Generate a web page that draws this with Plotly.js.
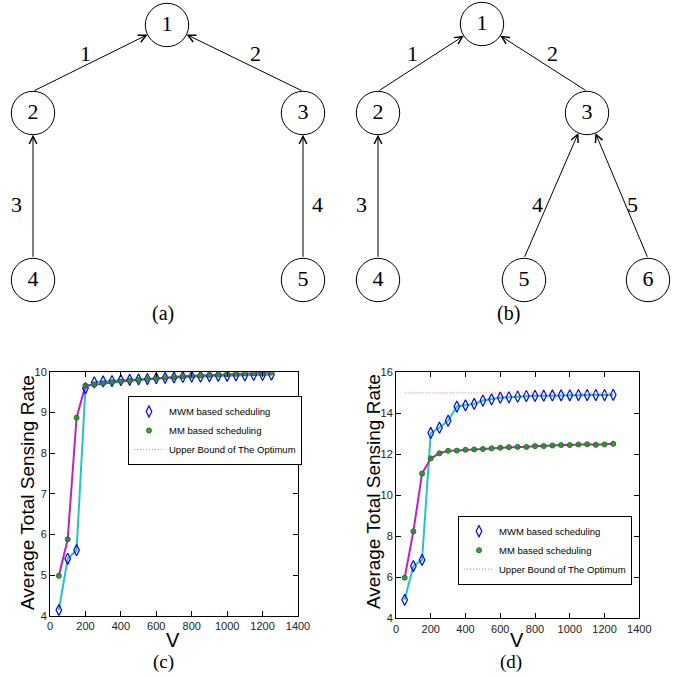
<!DOCTYPE html>
<html>
<head>
<meta charset="utf-8">
<script src="https://cdn.plot.ly/plotly-3.0.1.min.js"></script>
<style>html,body{margin:0;padding:0;background:#fff;}#chart{width:689px;height:677px;}</style>
</head>
<body>
<div id="chart"></div>
<script>
// ---------- data ----------
const V = [50,100,150,200,250,300,350,400,450,500,550,600,650,700,750,800,850,900,950,1000,1050,1100,1150,1200,1250];
const mwmC = [4.14,5.40,5.61,9.59,9.74,9.76,9.77,9.79,9.80,9.81,9.82,9.84,9.85,9.86,9.87,9.88,9.88,9.89,9.90,9.90,9.91,9.91,9.92,9.92,9.93];
const mmC  = [4.98,5.88,8.87,9.66,9.68,9.71,9.74,9.76,9.78,9.80,9.82,9.84,9.86,9.87,9.89,9.90,9.91,9.92,9.93,9.94,9.95,9.96,9.96,9.97,9.98];
const mwmD = [4.90,6.55,6.85,13.04,13.30,13.64,14.33,14.39,14.46,14.62,14.68,14.76,14.78,14.81,14.84,14.85,14.86,14.87,14.88,14.88,14.89,14.89,14.89,14.89,14.90];
const mmD  = [5.98,8.24,11.06,11.80,12.05,12.17,12.18,12.22,12.24,12.26,12.29,12.32,12.35,12.36,12.36,12.40,12.40,12.43,12.45,12.45,12.48,12.49,12.46,12.48,12.51];
const ubX = [50,1250];
const ubC = [10,10];
const ubD = [15,15];
const seriesNames = ['MWM based scheduling','MM based scheduling','Upper Bound of The Optimum'];
const xTicks = [0,200,400,600,800,1000,1200,1400];

// tree diagrams (positions in the diagram's own coordinate frame)
const nodeALabels = ['1','2','3','4','5'];
const nodeAX = [167,33,303,33,303];
const nodeAY = [25,113,113,280,280];
const edgeAFrom = [1,2,3,4];   // indexes into node arrays (source)
const edgeATo   = [0,0,1,2];   // target
const edgeALabels = ['1','2','3','4'];
const edgeALabelX = [85,255,16,317];
const edgeALabelY = [53,53,204,204];

const nodeBLabels = ['1','2','3','4','5','6'];
const nodeBX = [482,378,587,378,524,648];
const nodeBY = [24,113,113,280,280,280];
const edgeBFrom = [1,2,3,4,5];
const edgeBTo   = [0,0,1,2,2];
const edgeBLabels = ['1','2','3','4','5'];
const edgeBLabelX = [412,552,361,537,632];
const edgeBLabelY = [53,53,204,204,204];

const captions = ['(a)','(b)'];
const captionX = [163,508];
const captionY = [313,313];

// ---------- styles ----------
const R = 21.7;
const serif = 'Liberation Serif, Times New Roman, serif';
const sans = 'Liberation Sans, Arial, sans-serif';
const cyan = '#22c4c8';
const magenta = '#c020c0';
const blue = '#0000ff';
const green = '#157a15';
const red = '#ff8080';

const traces = [];
function chartTraces(xa, ya, mwm, mm, ub, legendId) {
  traces.push({x:V, y:mwm, xaxis:xa, yaxis:ya, mode:'lines', line:{color:cyan, width:2}, showlegend:false, hoverinfo:'skip'});
  traces.push({x:V, y:mm, xaxis:xa, yaxis:ya, mode:'lines', line:{color:magenta, width:2}, showlegend:false, hoverinfo:'skip'});
  traces.push({x:V, y:mwm, xaxis:xa, yaxis:ya, mode:'markers', name:seriesNames[0], legend:legendId,
    marker:{symbol:'diamond-tall-open', size:8, color:blue, line:{width:1.2, color:blue}}});
  traces.push({x:V, y:mm, xaxis:xa, yaxis:ya, mode:'markers', name:seriesNames[1], legend:legendId,
    marker:{symbol:'circle', size:5, color:'rgba(45,145,45,0.9)', line:{width:1, color:green}}});
  traces.push({x:ubX, y:ub, xaxis:xa, yaxis:ya, mode:'lines', name:seriesNames[2], legend:legendId, cliponaxis:false,
    line:{color:red, width:1.2, dash:'1px,2px'}});
}
chartTraces('x','y',mwmC,mmC,ubC,'legend');
chartTraces('x2','y2',mwmD,mmD,ubD,'legend2');

function nodeTrace(xs, ys, labels) {
  traces.push({x:xs, y:ys, text:labels, xaxis:'x3', yaxis:'y3', mode:'markers+text', showlegend:false, hoverinfo:'skip',
    textposition:'middle center', textfont:{family:serif, size:22, color:'#000'},
    marker:{symbol:'circle-open', size:2*R, color:'#000', line:{width:1, color:'#000'}}});
}
nodeTrace(nodeAX, nodeAY, nodeALabels);
nodeTrace(nodeBX, nodeBY, nodeBLabels);

const annotations = [];
function edges(nx, ny, from, to, labels, lx, ly) {
  for (let i = 0; i < from.length; i++) {
    annotations.push({xref:'x3', yref:'y3', axref:'x3', ayref:'y3',
      x:nx[to[i]], y:ny[to[i]], ax:nx[from[i]], ay:ny[from[i]] - R,
      text:'', showarrow:true, arrowhead:5, arrowsize:1.5, arrowwidth:1, arrowcolor:'#000', standoff:R});
    annotations.push({xref:'x3', yref:'y3', x:lx[i], y:ly[i], text:labels[i], showarrow:false,
      xanchor:'center', yanchor:'middle', font:{family:serif, size:22, color:'#000'}});
  }
}
edges(nodeAX, nodeAY, edgeAFrom, edgeATo, edgeALabels, edgeALabelX, edgeALabelY);
edges(nodeBX, nodeBY, edgeBFrom, edgeBTo, edgeBLabels, edgeBLabelX, edgeBLabelY);
for (let i = 0; i < captions.length; i++) {
  annotations.push({xref:'x3', yref:'y3', x:captionX[i], y:captionY[i], text:captions[i], showarrow:false,
    xanchor:'center', yanchor:'middle', font:{family:serif, size:20, color:'#000'}});
}
// axis titles and captions for the charts
const W = 689, H = 677;
function paperAnn(px, py, text, size, family, angle) {
  annotations.push({xref:'paper', yref:'paper', x:px/W, y:1-py/H, text:text, showarrow:false,
    xanchor:'center', yanchor:'middle', textangle:angle||0, font:{family:family, size:size, color:'#000'}});
}
paperAnn(27, 493, 'Average Total Sensing Rate', 19, sans, -90);
paperAnn(373, 492, 'Average Total Sensing Rate', 19, sans, -90);
paperAnn(173, 640, 'V', 20, sans);
paperAnn(517, 640, 'V', 20, sans);
paperAnn(163, 662, '(c)', 19, serif);
paperAnn(511, 662, '(d)', 19, serif);

function axisStyle(extra) {
  return Object.assign({showline:true, linecolor:'#000', linewidth:1, mirror:'ticks', ticks:'inside', ticklen:5,
    tickcolor:'#000', showgrid:false, zeroline:false, fixedrange:true,
    tickfont:{family:sans, size:11, color:'#222'}}, extra);
}

const layout = {
  width:W, height:H, margin:{l:0,r:0,t:0,b:0}, paper_bgcolor:'#fff', plot_bgcolor:'#fff',
  xaxis: axisStyle({domain:[50/W, 298/W], range:[0,1400], tickvals:xTicks, anchor:'y'}),
  yaxis: axisStyle({domain:[1-615.7/H, 1-371.7/H], range:[4,10], dtick:1, anchor:'x'}),
  xaxis2: axisStyle({domain:[396/W, 639.3/W], range:[0,1400], tickvals:xTicks, anchor:'y2'}),
  yaxis2: axisStyle({domain:[1-618.3/H, 1-372.3/H], range:[4,16], dtick:2, anchor:'x2'}),
  xaxis3: {domain:[0,1], range:[0,689], visible:false, anchor:'y3', fixedrange:true},
  yaxis3: {domain:[1-330/H,1], range:[330,0], visible:false, anchor:'x3', fixedrange:true},
  legend: {x:128/W, y:1-396/H, xanchor:'left', yanchor:'top', bgcolor:'#fff', bordercolor:'#000', borderwidth:1,
    font:{family:sans, size:9.5, color:'#000'}},
  legend2: {x:458/W, y:1-515.7/H, xanchor:'left', yanchor:'top', bgcolor:'#fff', bordercolor:'#000', borderwidth:1,
    font:{family:sans, size:9.5, color:'#000'}},
  annotations: annotations,
  showlegend: true
};

Plotly.newPlot('chart', traces, layout, {displayModeBar:false, staticPlot:true});
</script>
</body>
</html>
